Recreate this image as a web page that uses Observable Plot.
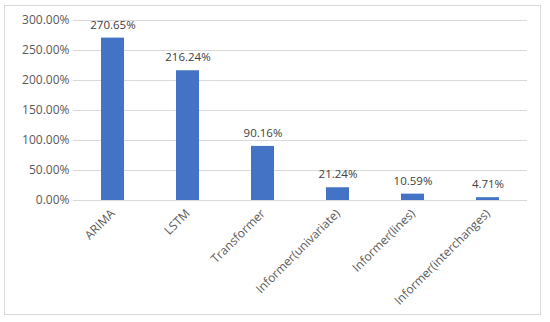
<!DOCTYPE html>
<html>
<head>
<meta charset="utf-8">
<script src="https://cdn.jsdelivr.net/npm/d3@7"></script>
<script src="https://cdn.jsdelivr.net/npm/@observablehq/plot@0.6"></script>
<style>
  html, body { margin: 0; padding: 0; background: #fff; }
  #wrap { position: relative; width: 550px; height: 322px; }
  #border { position: absolute; left: 4px; top: 5px; width: 537px; height: 310px; border: 1px solid #d9d9d9; box-sizing: border-box; }
  #chart { position: absolute; left: 0; top: 0; }
</style>
</head>
<body>
<div id="wrap"><div id="border"></div><div id="chart"></div></div>
<script>
const models = ["ARIMA", "LSTM", "Transformer", "Informer(univariate)", "Informer(lines)", "Informer(interchanges)"];
const errors = [270.65, 216.24, 90.16, 21.24, 10.59, 4.71];
const yTicks = [0, 50, 100, 150, 200, 250, 300];

const data = models.map((m, i) => ({model: m, value: errors[i]}));
const pct = v => v.toFixed(2) + "%";

const chart = Plot.plot({
  width: 550,
  height: 322,
  marginLeft: 73,
  marginRight: 23,
  marginTop: 20,
  marginBottom: 122,
  style: {fontFamily: "'Open Sans', sans-serif", color: "#595959", background: "transparent"},
  x: {domain: models, paddingInner: 0.69, paddingOuter: 0.345, label: null},
  y: {domain: [0, 300], label: null},
  marks: [
    Plot.gridY(yTicks, {stroke: "#d9d9d9", strokeOpacity: 1, strokeWidth: 1}),
    Plot.axisY(yTicks, {tickFormat: pct, tickSize: 0, tickPadding: 4, fontSize: 12, fill: "#595959", label: null}),
    Plot.axisX({tickSize: 0, tickPadding: 11, tickRotate: -45, fontSize: 12, fill: "#595959", label: null}),
    Plot.barY(data, {x: "model", y: "value", fill: "#4472c4"}),
    Plot.text(data, {x: "model", y: "value", text: d => pct(d.value), dy: -13, fontSize: 11.5, fill: "#404040"})
  ]
});
document.getElementById("chart").appendChild(chart);
</script>
</body>
</html>
